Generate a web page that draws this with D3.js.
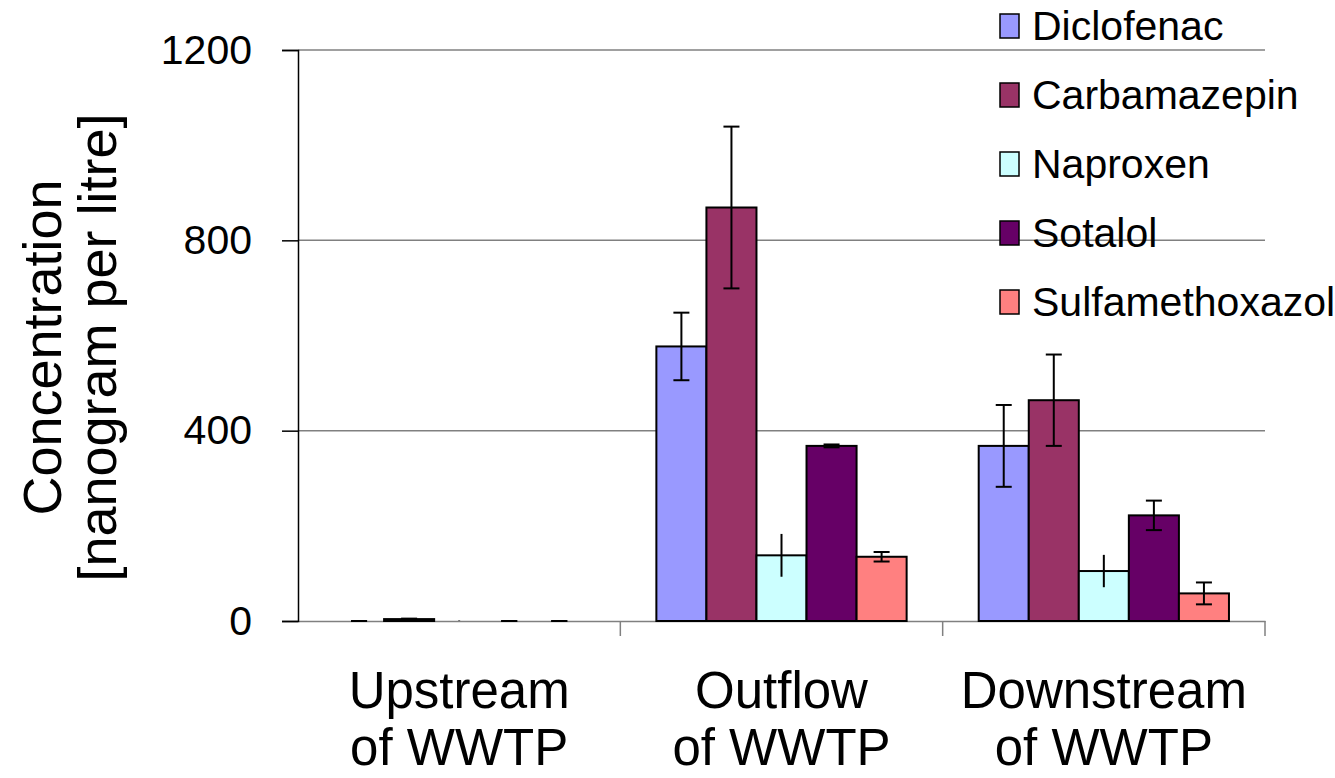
<!DOCTYPE html>
<html>
<head>
<meta charset="utf-8">
<script src="https://cdn.jsdelivr.net/npm/d3@7"></script>
<style>
  body { margin: 0; background: #fff; }
  text { font-family: "Liberation Sans", Arial, sans-serif; fill: #000; }
</style>
</head>
<body>
<div id="chart"></div>
<script>
// --------------------------------------
//  Data
// --------------------------------------

const sites = ["Upstream of WWTP", "Outflow of WWTP", "Downstream of WWTP"];
const siteLines = [["Upstream", "of WWTP"], ["Outflow", "of WWTP"], ["Downstream", "of WWTP"]];
const drugs = ["Diclofenac", "Carbamazepin", "Naproxen", "Sotalol", "Sulfamethoxazol"];
const drugColors = ["#9999ff", "#993366", "#ccffff", "#660066", "#ff8080"];
const drugCaps = [true, true, false, true, true];

// mean concentration per site, one array per drug
const diclofenac = [0, 577, 368];
const carbamazepin = [4, 869, 464];
const naproxen = [0, 138, 105];
const sotalol = [0, 368, 222];
const sulfamethoxazol = [0, 135, 58];

// error (+/-) per site
const diclofenacErr = [0, 71, 86];
const carbamazepinErr = [1, 170, 96];
const naproxenErr = [1, 45, 34];
const sotalolErr = [0, 3, 31];
const sulfamethoxazolErr = [0, 10, 23];

const yTicks = [0, 400, 800, 1200];

const values = [diclofenac, carbamazepin, naproxen, sotalol, sulfamethoxazol];
const errors = [diclofenacErr, carbamazepinErr, naproxenErr, sotalolErr, sulfamethoxazolErr];

const bars = [];
sites.forEach((site, i) => {
  drugs.forEach((drug, j) => {
    bars.push({site: site, drug: drug, value: values[j][i], err: errors[j][i],
               color: drugColors[j], cap: drugCaps[j]});
  });
});

// --------------------------------------
//  Canvas
// --------------------------------------

const width = 1335;
const height = 778;
const margin = {top: 50, right: 70, bottom: 157, left: 298};
const innerW = width - margin.left - margin.right;
const innerH = height - margin.top - margin.bottom;

const svg = d3.select("#chart")
  .append("svg")
    .attr("width", width)
    .attr("height", height);

const inner = svg.append("g")
  .attr("transform", `translate(${margin.left}, ${margin.top})`);

// --------------------------------------
//  Scales
// --------------------------------------

const x0 = d3.scaleBand()
  .domain(sites)
  .range([0, innerW])
  .padding(0);

const x1 = d3.scaleBand()
  .domain(drugs)
  .range([0, x0.bandwidth()])
  .paddingInner(0)
  .paddingOuter(0.72);

const y = d3.scaleLinear()
  .domain([0, 1200])
  .range([innerH, 0]);

// --------------------------------------
//  Grid and axes
// --------------------------------------

inner.append("g")
  .selectAll("line")
  .data(yTicks.filter(d => d > 0))
  .join("line")
    .attr("x1", 0)
    .attr("x2", innerW)
    .attr("y1", d => y(d))
    .attr("y2", d => y(d))
    .attr("stroke", "#808080")
    .attr("stroke-width", 1.5);

// x axis
const xAxis = inner.append("g")
  .attr("transform", `translate(0, ${innerH})`)
  .call(d3.axisBottom(x0).tickSize(0).tickFormat(""));
xAxis.select(".domain").attr("stroke", "#808080").attr("stroke-width", 1.5);

xAxis.selectAll(".sep")
  .data(sites.map(s => x0(s) + x0.bandwidth()))
  .join("line")
    .attr("class", "sep")
    .attr("x1", d => d)
    .attr("x2", d => d)
    .attr("y1", 0)
    .attr("y2", 15)
    .attr("stroke", "#808080")
    .attr("stroke-width", 1.5);

// category labels
const catLabels = inner.append("g")
  .selectAll("text")
  .data(sites)
  .join("text")
    .attr("x", d => x0(d) + x0.bandwidth() / 2)
    .attr("y", innerH + 87)
    .attr("text-anchor", "middle")
    .style("font-size", "51px");

catLabels.selectAll("tspan")
  .data((d, i) => siteLines[i])
  .join("tspan")
    .attr("x", function() { return d3.select(this.parentNode).attr("x"); })
    .attr("dy", (d, i) => i === 0 ? 0 : 57)
    .text(d => d);

// y axis
const yAxis = inner.append("g")
  .call(d3.axisLeft(y).tickValues(yTicks).tickFormat(d3.format("d")).tickSize(16).tickPadding(30));
yAxis.select(".domain").attr("stroke", "#000").attr("stroke-width", 1.5);
yAxis.selectAll(".tick line").attr("stroke", "#000").attr("stroke-width", 1.5);
yAxis.selectAll(".tick text")
  .style("font-size", "41px")
  .style("font-family", "'Liberation Sans', Arial, sans-serif")
  .attr("fill", "#000");

// y title
const yTitle = svg.append("text")
  .attr("transform", `translate(61, ${margin.top + innerH / 2 + 12}) rotate(-90)`)
  .attr("text-anchor", "middle")
  .style("font-size", "54px");
yTitle.append("tspan").attr("x", 0).attr("dy", 0).text("Concentration");
yTitle.append("tspan").attr("x", 0).attr("dy", 55).text("[nanogram per litre]");

// --------------------------------------
//  Bars and error bars
// --------------------------------------

inner.append("g")
  .selectAll("rect")
  .data(bars.filter(d => d.value > 0))
  .join("rect")
    .attr("x", d => x0(d.site) + x1(d.drug))
    .attr("y", d => y(d.value))
    .attr("width", x1.bandwidth())
    .attr("height", d => y(0) - y(d.value))
    .attr("fill", d => d.color)
    .attr("stroke", "#000")
    .attr("stroke-width", 2);

const errG = inner.append("g")
  .attr("stroke", "#000")
  .attr("stroke-width", 2);

const cx = d => x0(d.site) + x1(d.drug) + x1.bandwidth() / 2;
const capW = 8;

errG.selectAll(".stem")
  .data(bars)
  .join("line")
    .attr("class", "stem")
    .attr("x1", cx)
    .attr("x2", cx)
    .attr("y1", d => y(d.value + d.err))
    .attr("y2", d => y(Math.max(0, d.value - d.err)));

const capData = [];
bars.filter(d => d.cap).forEach(d => {
  capData.push({d: d, v: d.value + d.err});
  capData.push({d: d, v: Math.max(0, d.value - d.err)});
});

errG.selectAll(".cap")
  .data(capData)
  .join("line")
    .attr("class", "cap")
    .attr("x1", c => cx(c.d) - capW)
    .attr("x2", c => cx(c.d) + capW)
    .attr("y1", c => y(c.v))
    .attr("y2", c => y(c.v));

// --------------------------------------
//  Legend
// --------------------------------------

const legend = svg.append("g")
  .attr("transform", "translate(1000, 0)");

const item = legend.selectAll("g")
  .data(drugs)
  .join("g")
    .attr("transform", (d, i) => `translate(0, ${26 + i * 69})`);

item.append("rect")
  .attr("x", 0)
  .attr("y", -12)
  .attr("width", 19)
  .attr("height", 24)
  .attr("fill", (d, i) => drugColors[i])
  .attr("stroke", "#000")
  .attr("stroke-width", 1.5);

item.append("text")
  .attr("x", 32)
  .attr("y", 14)
  .style("font-size", "41px")
  .text(d => d);
</script>
</body>
</html>
